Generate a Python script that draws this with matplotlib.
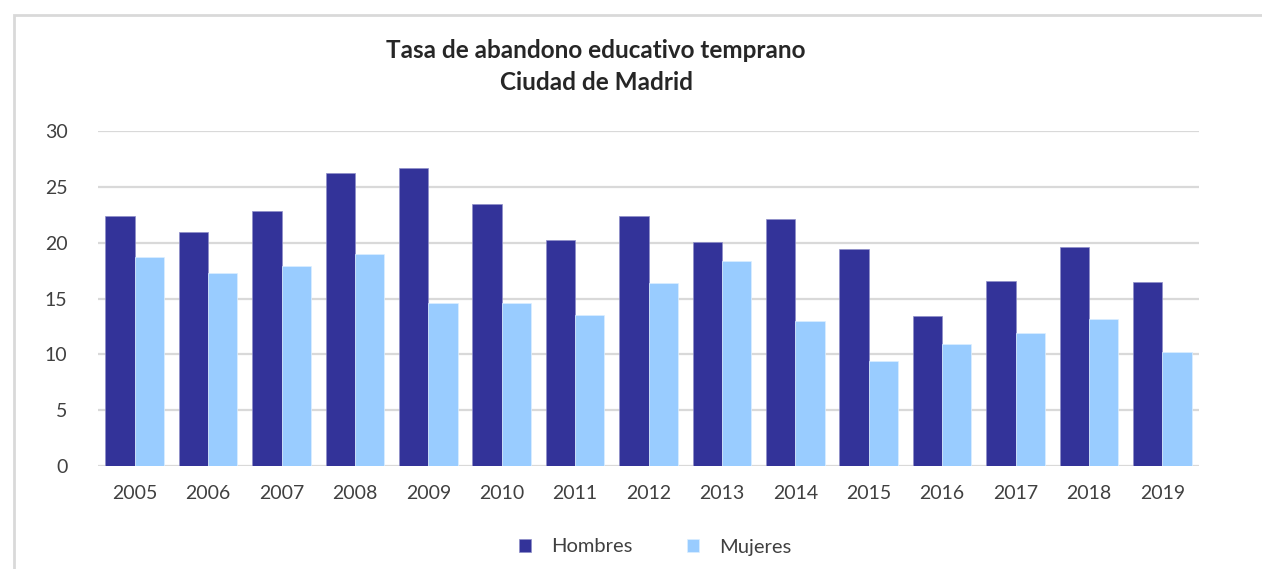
import numpy as np
import matplotlib
matplotlib.use('Agg')
import matplotlib.pyplot as plt
from matplotlib.patches import Rectangle

# datos
years = ['2005', '2006', '2007', '2008', '2009', '2010', '2011', '2012',
         '2013', '2014', '2015', '2016', '2017', '2018', '2019']
hombres = [22.4, 21.0, 22.8, 26.2, 26.7, 23.5, 20.2, 22.4, 20.1, 22.1, 19.4, 13.4, 16.6, 19.6, 16.5]
mujeres = [18.7, 17.3, 17.9, 19.0, 14.6, 14.6, 13.5, 16.4, 18.4, 13.0, 9.4, 10.9, 11.9, 13.2, 10.2]

plt.rcParams['font.family'] = ['Lato', 'DejaVu Sans']
txt = '#404040'

fig = plt.figure(figsize=(12.62, 5.69), dpi=100)
W, H = 1262, 569
ax = fig.add_axes([98 / W, 1 - 466 / H, (1199 - 98) / W, (466 - 131) / H])

x = np.arange(len(years))
w = 0.4
ax.bar(x - w / 2, hombres, width=w, color='#333399', edgecolor='#8f8fc9', linewidth=0.5, label='Hombres', zorder=3)
ax.bar(x + w / 2, mujeres, width=w, color='#99ccff', edgecolor='#dcefff', linewidth=0.5, label='Mujeres', zorder=3)

ax.set_xlim(-0.5, len(years) - 0.5)
ax.set_ylim(0, 30)
ax.set_yticks([0, 5, 10, 15, 20, 25, 30])
ax.set_xticks(x)
ax.set_xticklabels(years)
ax.grid(axis='y', color='#d9d9d9', linewidth=1.6, zorder=0)
for s in ax.spines.values():
    s.set_visible(False)
ax.tick_params(axis='both', length=0, labelsize=14, colors=txt)
ax.tick_params(axis='y', pad=22)
ax.tick_params(axis='x', pad=14)

# titulo
fig.text(596 / W, 1 - 50 / H, 'Tasa de abandono educativo temprano', ha='center', va='center',
         fontsize=17.5, fontweight='bold', color='#262626')
fig.text(596 / W, 1 - 82 / H, 'Ciudad de Madrid', ha='center', va='center',
         fontsize=17.5, fontweight='bold', color='#262626')

# leyenda
fig.legend(loc='center', bbox_to_anchor=(655 / W, 1 - 547 / H), ncol=2, frameon=False,
           fontsize=14.5, handlelength=0.6, handleheight=0.6, handletextpad=1.0,
           columnspacing=2.7, labelcolor=txt)

# marco
fig.patches.append(Rectangle((14 / W, -0.1), 1.2, 1.1 - 15 / H, transform=fig.transFigure,
                             fill=False, edgecolor='#d9d9d9', linewidth=2))

plt.savefig('out.png', dpi=100)
